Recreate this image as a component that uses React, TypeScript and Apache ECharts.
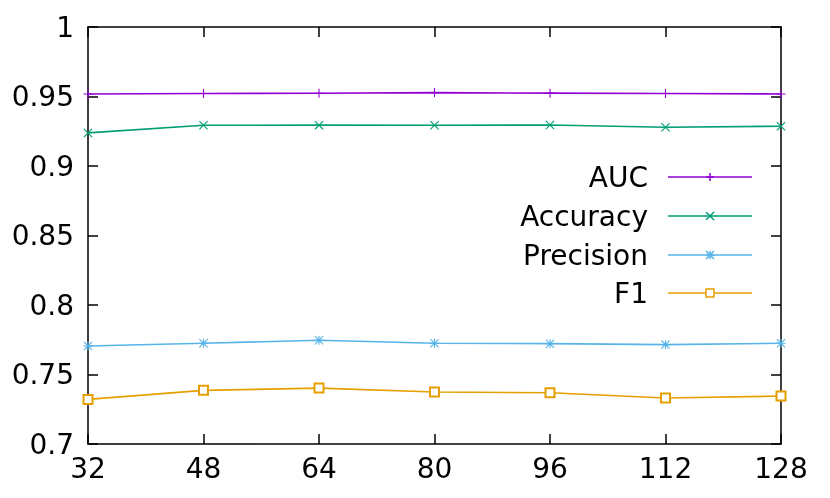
import React, { useEffect, useRef } from "react";
import * as echarts from "echarts";

const xValues = [32, 48, 64, 80, 96, 112, 128];
const aucValues = [0.9518, 0.9522, 0.9523, 0.9528, 0.9524, 0.9522, 0.9518];
const accuracyValues = [0.9238, 0.9293, 0.9294, 0.9293, 0.9295, 0.9279, 0.9286];
const precisionValues = [0.7705, 0.7725, 0.7746, 0.7725, 0.7722, 0.7715, 0.7725];
const f1Values = [0.7321, 0.7386, 0.7402, 0.7374, 0.7369, 0.7331, 0.7345];
const seriesNames = ["AUC", "Accuracy", "Precision", "F1"];
const seriesColors = ["#9400d3", "#009e73", "#56b4e9", "#e69f00"];

const PLUS = "M4.4,0H5.6V4.4H10V5.6H5.6V10H4.4V5.6H0V4.4H4.4Z";
const CROSS = "M0,0.85L0.85,0L10,9.15L9.15,10ZM10,0.85L0.85,10L0,9.15L9.15,0Z";
const symbols = ["path://" + PLUS, "path://" + CROSS, "path://" + PLUS + CROSS, "emptyRect"];

const FONT = "DejaVu Sans";
const FONT_SIZE = 28;

function legendMarker(kind: number, cx: number, cy: number, color: string) {
  const s = 4;
  const ls = { stroke: color, lineWidth: 1.5 };
  const out: any[] = [];
  if (kind === 0 || kind === 2) {
    out.push({ type: "line", shape: { x1: cx - s, y1: cy, x2: cx + s, y2: cy }, style: ls });
    out.push({ type: "line", shape: { x1: cx, y1: cy - s, x2: cx, y2: cy + s }, style: ls });
  }
  if (kind === 1 || kind === 2) {
    out.push({ type: "line", shape: { x1: cx - s, y1: cy - s, x2: cx + s, y2: cy + s }, style: ls });
    out.push({ type: "line", shape: { x1: cx - s, y1: cy + s, x2: cx + s, y2: cy - s }, style: ls });
  }
  if (kind === 3) {
    out.push({ type: "rect", shape: { x: cx - s, y: cy - s, width: 2 * s, height: 2 * s }, style: { fill: "#fff", stroke: color, lineWidth: 1.5 } });
  }
  return out;
}

export default function App() {
  const ref = useRef<HTMLDivElement>(null);
  useEffect(() => {
    if (!ref.current) return;
    const chart = echarts.init(ref.current, null, { renderer: "svg" });
    const allValues = [aucValues, accuracyValues, precisionValues, f1Values];
    const axisLine = { show: true, onZero: false, lineStyle: { color: "#000", width: 1.5 } };
    const axisTick = { show: true, inside: true, length: 10, lineStyle: { color: "#000", width: 1.5 } };
    const labelStyle = { color: "#000", fontSize: FONT_SIZE, fontFamily: FONT };

    const legendRowsY = [177, 216, 255, 293];
    const graphics: any[] = [];
    seriesNames.forEach((name, i) => {
      const y = legendRowsY[i];
      graphics.push({
        type: "text",
        x: 648,
        y,
        style: { text: name, align: "right", verticalAlign: "middle", fontSize: FONT_SIZE, fontFamily: FONT, fill: "#000" },
      });
      graphics.push({ type: "line", shape: { x1: 668, y1: y, x2: 752, y2: y }, style: { stroke: seriesColors[i], lineWidth: 1.6 } });
      legendMarker(i, 710, y, seriesColors[i]).forEach((g) => graphics.push(g));
    });

    chart.setOption({
      animation: false,
      grid: { left: 88, right: 49, top: 27, bottom: 54 },
      xAxis: [
        {
          type: "value", min: 32, max: 128, interval: 16, position: "bottom",
          axisLine, axisTick, splitLine: { show: false },
          axisLabel: { ...labelStyle, margin: 10 },
        },
        {
          type: "value", min: 32, max: 128, interval: 16, position: "top",
          axisLine, axisTick, splitLine: { show: false }, axisLabel: { show: false },
        },
      ],
      yAxis: [
        {
          type: "value", min: 0.7, max: 1, interval: 0.05, position: "left",
          axisLine, axisTick, splitLine: { show: false },
          axisLabel: { ...labelStyle, margin: 14, formatter: (v: number) => String(Math.round(v * 100) / 100) },
        },
        {
          type: "value", min: 0.7, max: 1, interval: 0.05, position: "right",
          axisLine, axisTick, splitLine: { show: false }, axisLabel: { show: false },
        },
      ],
      series: seriesNames.map((name, i) => ({
        name,
        type: "line",
        xAxisIndex: 0,
        yAxisIndex: 0,
        data: xValues.map((x, j) => [x, allValues[i][j]]),
        symbol: symbols[i],
        symbolSize: 9,
        showAllSymbol: true,
        lineStyle: { color: seriesColors[i], width: 1.6 },
        itemStyle: { color: seriesColors[i], borderColor: seriesColors[i], borderWidth: i === 3 ? 1.5 : 0 },
        emphasis: { disabled: true },
      })),
      graphic: graphics,
    });
    return () => chart.dispose();
  }, []);
  return <div ref={ref} style={{ position: "fixed", left: 0, top: 0, width: 830, height: 498 }} />;
}
